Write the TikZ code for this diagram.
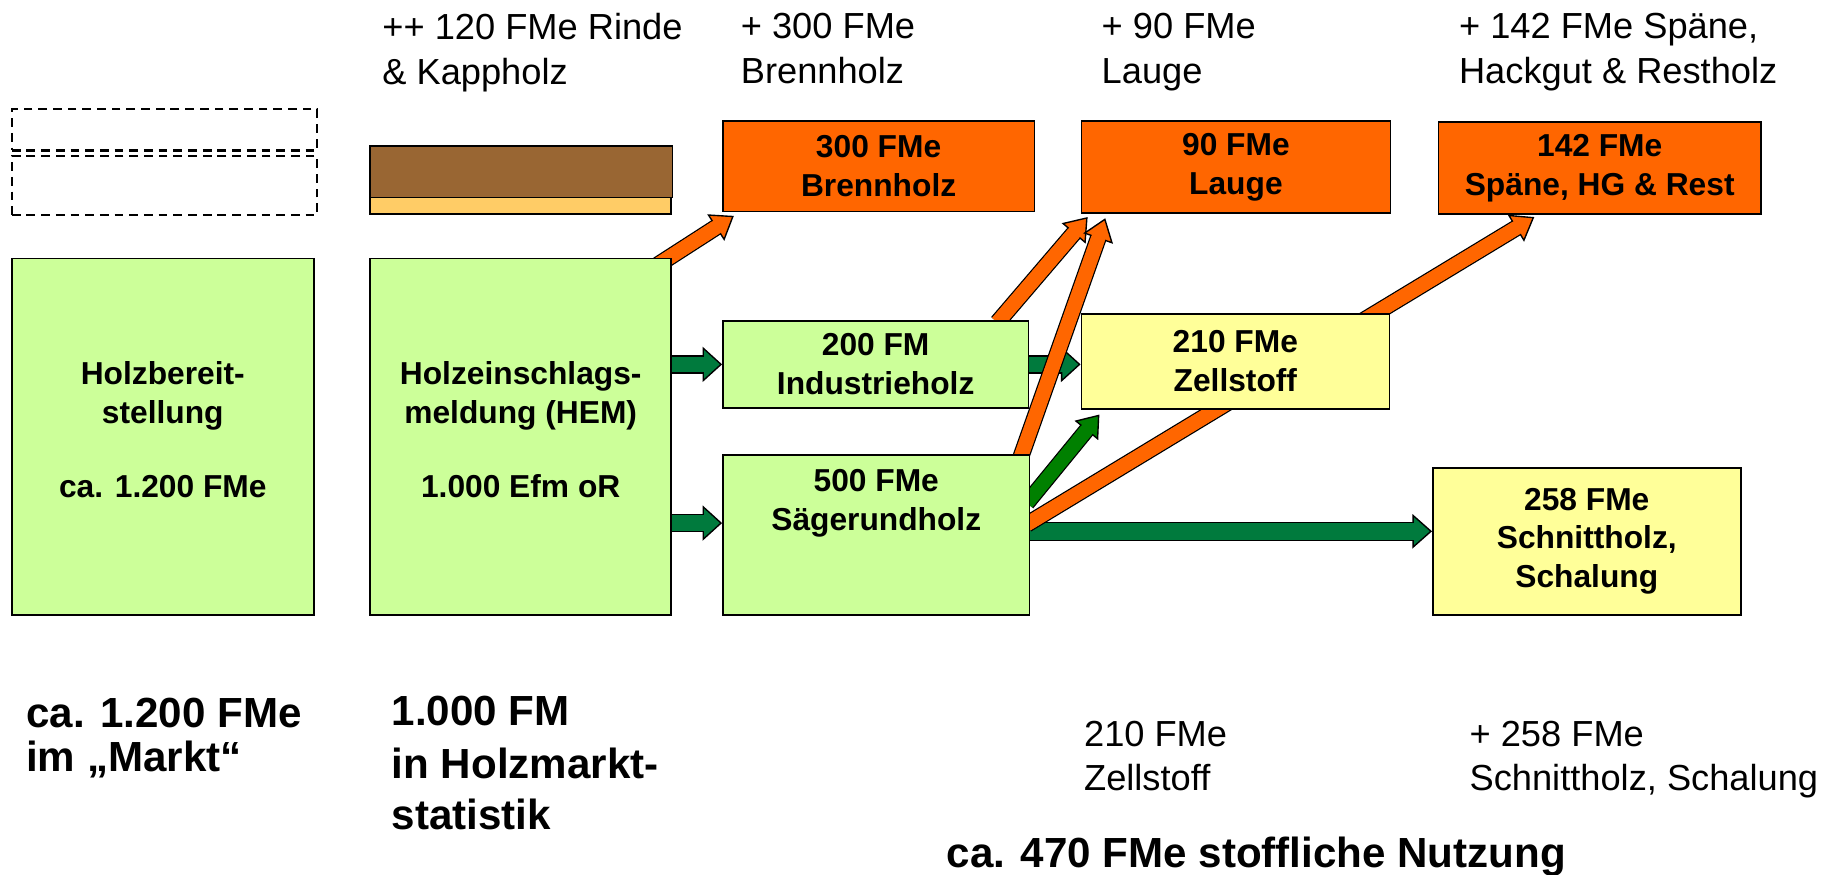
\documentclass[tikz,border=0pt]{standalone}
\usepackage{fontspec}
\setmainfont{Liberation Sans}
\usetikzlibrary{arrows.meta,calc,backgrounds}

\definecolor{boxgreen}{HTML}{CCFF99}
\definecolor{boxyellow}{HTML}{FFFF99}
\definecolor{woodorange}{HTML}{FF6600}
\definecolor{barkbrown}{HTML}{996633}
\definecolor{kappyellow}{HTML}{FFCC66}
\definecolor{flowgreen}{HTML}{007A3D}
\definecolor{darkflow}{HTML}{008000}

\tikzset{
  holzbox/.style={draw, line width=0.8pt, inner sep=0pt, align=center,
    font=\fontsize{16.2}{19.8}\selectfont\bfseries},
  markbox/.style={draw, line width=1.1pt, dash pattern=on 4.5pt off 3pt, inner sep=0pt},
  toptext/.style={anchor=north west, inner sep=0pt, align=left,
    font=\fontsize{18.5}{22.8}\selectfont},
  bigtext/.style={anchor=north west, inner sep=0pt, align=left,
    font=\fontsize{21.5}{22.2}\selectfont\bfseries},
  flow/.style n args={4}{draw=#1, line width=#2,
    -{Triangle[width=#3, length=#4, fill=#1, color=black, line width=0.7pt]},
    preaction={draw=black, -, line width=#2+1.4pt, shorten >=#4-1pt},
    postaction={draw=#1, -, line width=#2, shorten >=#4-2pt}},
  oflow/.style={flow={woodorange}{7.2pt}{16pt}{11pt}},
  gflow/.style={flow={flowgreen}{8pt}{18pt}{10pt}},
}

\begin{document}
\begin{tikzpicture}[x=0.6pt, y=-0.6pt]
\useasboundingbox (0,0) rectangle (1568,744);

% texts above
\node[toptext] (trinde) at (325,11) {++ 120 FMe Rinde\\\& Kappholz};
\node[toptext] (tbrenn) at (630,11) {+ 300 FMe\\Brennholz};
\node[toptext] (tlauge) at (937,11) {+ 90 FMe\\Lauge};
\node[toptext] (trest)  at (1241,11) {+ 142 FMe Späne,\\Hackgut \& Restholz};

% left column
\node[markbox, minimum width=156pt, minimum height=21pt] (mark1) at (140,110.5) {};
\node[markbox, minimum width=156pt, minimum height=30pt] (mark2) at (140,158) {};
\node[holzbox, fill=boxgreen, minimum width=154.2pt, minimum height=181.8pt] (bereit) at (138.5,371.5)
  {Holzbereit-\\stellung\\[18pt]ca. 1.200 FMe\\[-12.6pt]\mbox{}};

% HEM column
\node[holzbox, fill=barkbrown, minimum width=154.2pt, minimum height=26.4pt] (rinde) at (443.5,146) {};
\node[holzbox, fill=kappyellow, minimum width=153.6pt, minimum height=8.4pt] (kapp) at (443,175) {};
\node[holzbox, fill=boxgreen, minimum width=153.6pt, minimum height=181.8pt] (hem) at (443,371.5)
  {Holzeinschlags-\\meldung (HEM)\\[18pt]1.000 Efm oR\\[-12.6pt]\mbox{}};

% assortments
\node[holzbox, fill=boxgreen, minimum width=156pt, minimum height=44.4pt] (ind) at (745,310) {200 FM\\Industrieholz};
\node[holzbox, fill=boxgreen, minimum width=156.6pt, minimum height=81.6pt] (saeg) at (745.5,455)
  {500 FMe\\Sägerundholz\\[16pt]\mbox{}};

% products
\node[holzbox, fill=woodorange, minimum width=159pt, minimum height=46.2pt] (brenn) at (747.5,141.5) {300 FMe\\Brennholz};
\node[holzbox, fill=woodorange, minimum width=157.8pt, minimum height=46.8pt] (lauge) at (1051.5,142) {90 FMe\\Lauge};
\node[holzbox, fill=woodorange, minimum width=164.4pt, minimum height=46.8pt] (rest) at (1361,143) {142 FMe\\Späne, HG \& Rest};
\node[holzbox, fill=boxyellow, minimum width=157.2pt, minimum height=48.6pt] (zell) at (1051,307.5) {210 FMe\\Zellstoff};
\node[holzbox, fill=boxyellow, minimum width=157.2pt, minimum height=75pt] (schnitt) at (1350,460.5)
  {258 FMe\\Schnittholz,\\Schalung};

% flows
\begin{scope}[on background layer]
\draw[gflow] (hem.east |- ind.west) -- (ind.west);
\draw[gflow] ($(hem.east |- saeg.west)+(0,-10)$) -- ($(saeg.west)+(0,-10)$);
\draw[gflow] (ind.east) -- (ind.east -| zell.west);
\draw[flow={darkflow}{7pt}{15.5pt}{10.5pt}] ($(saeg.east)+(-3,-27)$) -- ($(zell.south west)+(16,4)$);
\draw[flow={flowgreen}{8.5pt}{17.5pt}{10pt}] ($(saeg.east)+(-3,-3)$) -- ($(saeg.east -| schnitt.west)+(0,-3)$);
\draw[oflow] ($(hem.north east)+(-12,6)$) -- ($(brenn.south west)+(10,3)$);
\draw[oflow] ($(ind.north east)+(-27,2)$) -- ($(lauge.south west)+(6,3)$);
\draw[oflow] ($(saeg.north east)+(-8,2)$) -- ($(lauge.south west)+(21,4)$);
\draw[oflow] ($(saeg.east)+(-3,-9)$) -- ($(rest.south west)+(82,2)$);
\end{scope}

% texts below
\node[bigtext] (markt) at (22,594) {ca. 1.200 FMe\\im „Markt“};
\node[bigtext] (stat) at (333,592) {1.000 FM\\[5pt]in Holzmarkt-\\[3.5pt]statistik};
\node[toptext] (bzell) at (922,613) {210 FMe\\Zellstoff};
\node[toptext] (bschnitt) at (1250,613) {+ 258 FMe\\Schnittholz, Schalung};
\node[bigtext] (nutzung) at (805,712) {ca. 470 FMe stoffliche Nutzung};
\end{tikzpicture}
\end{document}
